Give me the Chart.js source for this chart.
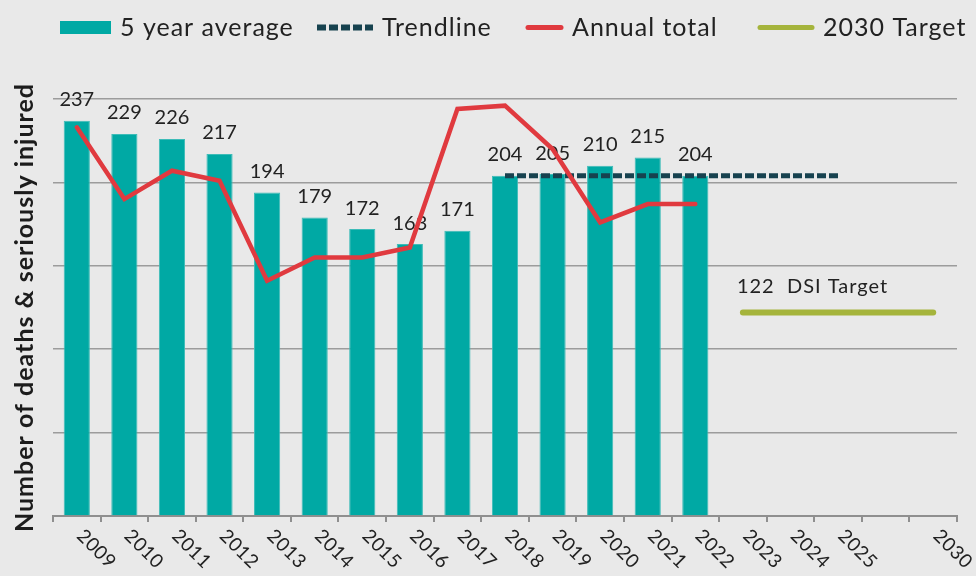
<!DOCTYPE html>
<html><head><meta charset="utf-8">
<script src="https://cdn.jsdelivr.net/npm/chart.js@4"></script>
<style>html,body{margin:0;padding:0;background:#e9e9e9;}#wrap{width:976px;height:576px;position:relative}canvas{display:block}</style>
</head><body><div id="wrap"><canvas id="c" width="976" height="576"></canvas></div>
<script>
const categories = ['2009','2010','2011','2012','2013','2014','2015','2016','2017','2018','2019','2020','2021','2022','2023','2024','2025','','2030'];
const fiveYearAverage = [237,229,226,217,194,179,172,163,171,204,205,210,215,204];
const annualTotal = [233,190,207,201,141,155,155,161,244,246,220,176,187,187];
const trendline = [null,null,null,null,null,null,null,null,null,204,204,204,204,204,204,204,204];
const target2030 = [null,null,null,null,null,null,null,null,null,null,null,null,null,null,122,122,122,122,122];
const yTicks = [0,50,100,150,200,250];
const seriesNames = ['5 year average','Trendline','Annual total','2030 Target'];
const yTitle = 'Number of deaths & seriously injured';
const targetLabel = 'DSI Target';

const FONT = 'Lato, "Source Sans Pro", "Noto Sans", sans-serif';
const TXT = '#222222';
const TEAL = '#00a9a4', NAVY = '#17424f', RED = '#e03a3f', GREEN = '#a5b43c';

const spacingPlugin = {
  id: 'spacing',
  beforeDraw(chart) { chart.ctx.letterSpacing = '1px'; }
};

const barLabelPlugin = {
  id: 'barLabels',
  afterDatasetDraw(chart, args) {
    if (args.index !== 0) return;
    const ctx = chart.ctx;
    ctx.save();
    ctx.letterSpacing = '0px';
    ctx.font = '20px ' + FONT;
    ctx.fillStyle = TXT;
    ctx.textAlign = 'center';
    ctx.textBaseline = 'middle';
    args.meta.data.forEach((el, i) => {
      const v = chart.data.datasets[0].data[i];
      if (v == null) return;
      ctx.fillText(String(v), el.x, el.y - 21);
    });
    ctx.restore();
  }
};

const overlayPlugin = {
  id: 'overlay',
  afterDraw(chart) {
    const ctx = chart.ctx;
    const xs = chart.scales.x;
    // x labels rotated
    ctx.save();
    ctx.letterSpacing = '0.5px';
    ctx.font = '19px ' + FONT;
    ctx.fillStyle = TXT;
    ctx.textAlign = 'left';
    ctx.textBaseline = 'alphabetic';
    categories.forEach((c, i) => {
      if (!c) return;
      const x = xs.getPixelForValue(i);
      ctx.save();
      ctx.translate(x - 1, xs.top + 21);
      ctx.rotate(Math.PI / 4);
      ctx.fillText(c, 0, 0);
      ctx.restore();
    });
    ctx.restore();

    // target label
    const tMeta = chart.getDatasetMeta(2);
    const firstIdx = target2030.findIndex(v => v != null);
    const el = tMeta.data[firstIdx];
    ctx.save();
    ctx.letterSpacing = '1px';
    ctx.font = '20px ' + FONT;
    ctx.fillStyle = TXT;
    ctx.textAlign = 'left';
    ctx.textBaseline = 'middle';
    ctx.fillText(target2030[firstIdx] + '  ' + targetLabel, el.x - 6, el.y - 26);
    ctx.restore();

    // legend
    const items = [
      {x: 60, w: 51, type: 'box', color: TEAL},
      {x: 317, w: 56, type: 'dash', color: NAVY},
      {x: 526, w: 37, type: 'line', color: RED},
      {x: 758, w: 56, type: 'line', color: GREEN}
    ];
    ctx.save();
    ctx.letterSpacing = '1px';
    ctx.font = '25px ' + FONT;
    ctx.fillStyle = TXT;
    ctx.textBaseline = 'alphabetic';
    items.forEach((it, i) => {
      const cy = 27.5;
      if (it.type === 'box') {
        ctx.fillStyle = it.color;
        ctx.fillRect(it.x, cy - 6.5, it.w, 13);
      } else {
        ctx.beginPath();
        ctx.strokeStyle = it.color;
        ctx.lineWidth = it.type === 'dash' ? 6 : 5;
        ctx.lineCap = it.type === 'dash' ? 'butt' : 'round';
        ctx.setLineDash(it.type === 'dash' ? [9, 3] : []);
        ctx.moveTo(it.x + (it.type === 'line' ? 2 : 0), cy);
        ctx.lineTo(it.x + it.w - (it.type === 'line' ? 2 : 0), cy);
        ctx.stroke();
        ctx.setLineDash([]);
      }
      ctx.fillStyle = TXT;
      ctx.textAlign = 'left';
      ctx.fillText(seriesNames[i], it.x + it.w + 9, 36);
    });
    ctx.restore();
    ctx.letterSpacing = '0px';
  }
};

new Chart(document.getElementById('c'), {
  data: {
    labels: categories,
    datasets: [
      {type: 'bar', label: seriesNames[0], data: fiveYearAverage, backgroundColor: TEAL,
       borderColor: '#3dbcb8', borderWidth: 1, categoryPercentage: 1, barPercentage: 0.55, order: 4},
      {type: 'line', label: seriesNames[1], data: trendline, borderColor: NAVY, borderWidth: 5,
       borderDash: [9, 3], pointRadius: 0, tension: 0, order: 3},
      {type: 'line', label: seriesNames[3], data: target2030, borderColor: GREEN, borderWidth: 6,
       borderCapStyle: 'round', pointRadius: 0, spanGaps: true, tension: 0, order: 2},
      {type: 'line', label: seriesNames[2], data: annualTotal, borderColor: RED, borderWidth: 4.5,
       borderCapStyle: 'round', pointRadius: 0, tension: 0, order: 1}
    ]
  },
  options: {
    responsive: false,
    devicePixelRatio: 1,
    animation: false,
    layout: {padding: {top: 99, right: 19, bottom: 0, left: 0}},
    plugins: {legend: {display: false}, tooltip: {enabled: false}},
    scales: {
      x: {
        type: 'category', offset: true,
        grid: {display: true, drawOnChartArea: false, drawTicks: true, tickLength: 6, color: '#8f8f8f', lineWidth: 2, offset: true},
        border: {display: true, color: '#8f8f8f', width: 2},
        ticks: {display: false},
        afterFit(s) { s.height = 60; }
      },
      y: {
        min: yTicks[0], max: yTicks[yTicks.length - 1],
        afterBuildTicks(s) { s.ticks = yTicks.map(v => ({value: v})); },
        ticks: {display: false},
        grid: {color: '#9c9c9c', lineWidth: 1.5, drawTicks: false},
        border: {display: false},
        title: {display: true, text: yTitle, color: '#1c1c1c', padding: {top: 10, bottom: 0},
                font: {family: FONT, size: 25, weight: 'bold'}},
        afterFit(s) { s.width = 53; }
      }
    }
  },
  plugins: [spacingPlugin, barLabelPlugin, overlayPlugin]
});
</script></body></html>
